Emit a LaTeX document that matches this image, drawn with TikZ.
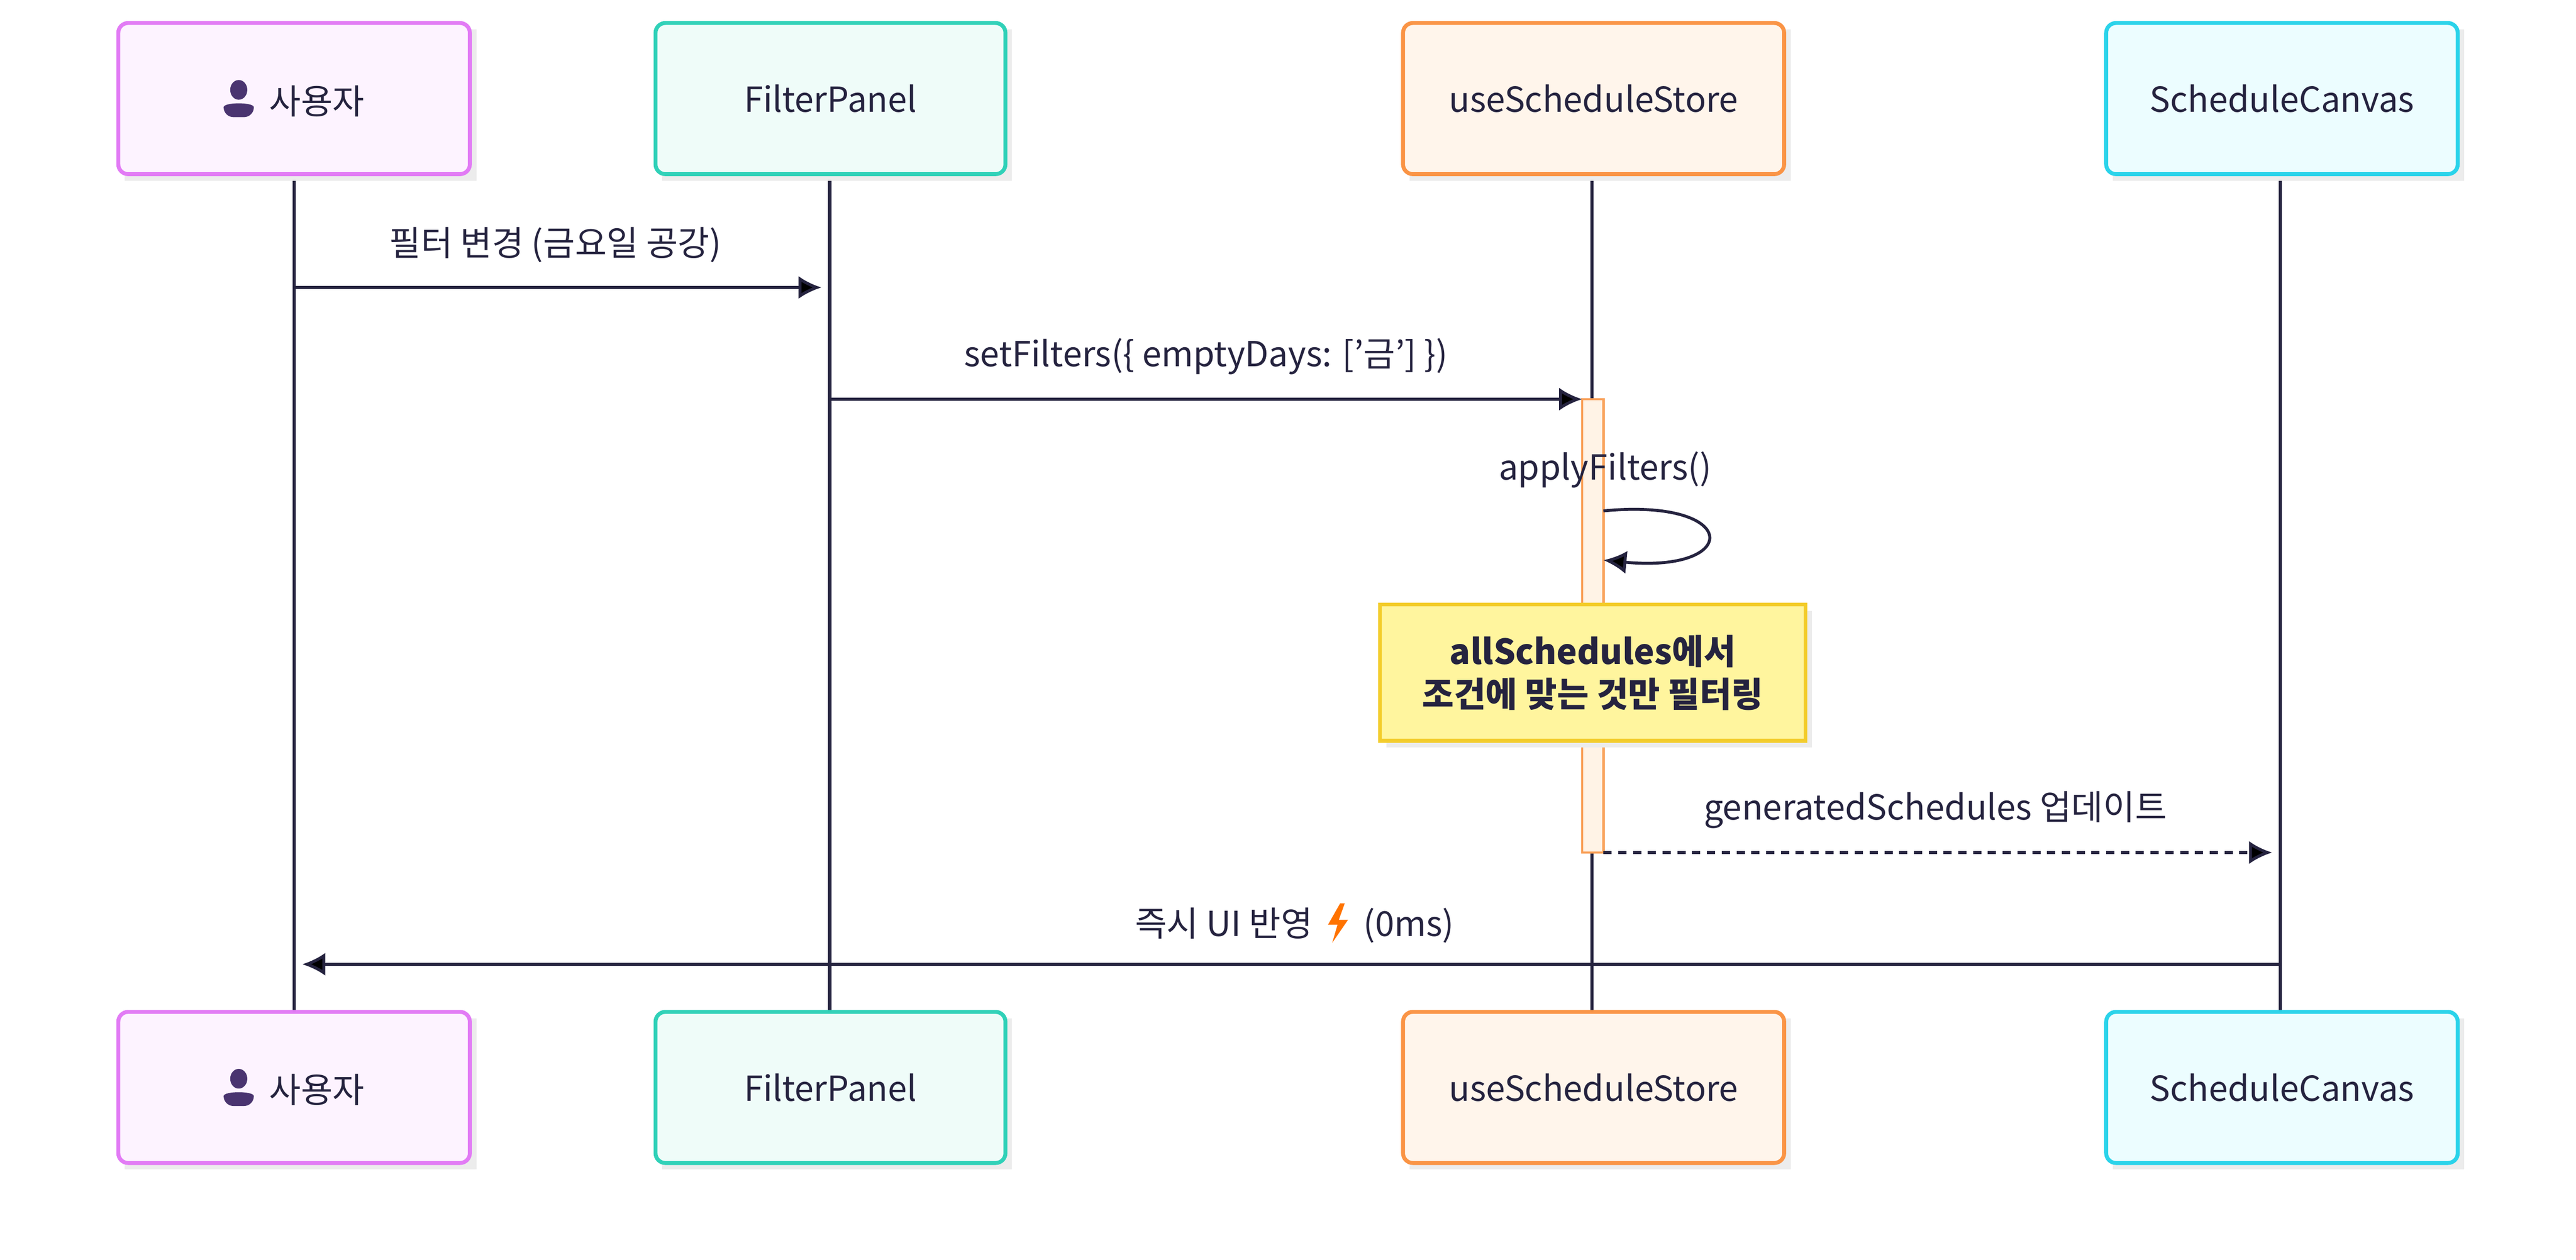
\documentclass[tikz,border=0pt]{standalone}
\usepackage{fontspec}
\setmainfont{Noto Sans CJK KR}
\usetikzlibrary{arrows.meta}
\definecolor{ink}{HTML}{25233F}
\definecolor{uB}{HTML}{E27BF5}\definecolor{uF}{HTML}{FDF3FF}
\definecolor{fB}{HTML}{30D1B8}\definecolor{fF}{HTML}{EFFCF9}
\definecolor{sB}{HTML}{FA9445}\definecolor{sF}{HTML}{FFF5EB}
\definecolor{cB}{HTML}{2AD3EA}\definecolor{cF}{HTML}{ECFDFF}
\definecolor{nB}{HTML}{F3CC2A}\definecolor{nF}{HTML}{FFF59E}
\definecolor{aB}{HTML}{F9A15A}\definecolor{aF}{HTML}{FFF3E6}
\definecolor{icon}{HTML}{4A3470}
\newcommand{\personicon}{\tikz[baseline=0pt,x=1pt,y=1pt]{\fill[icon] (4,7.3) ellipse (2.6 and 3); \fill[icon] (-0.6,-1) .. controls (-0.6,3.6) and (8.6,3.6) .. (8.6,-1) -- cycle;}}
\newcommand{\bolt}{\tikz[baseline=-1pt,x=1pt,y=1pt]{\fill[orange!90!red] (4.2,9) -- (0.5,2.5) -- (3.4,2.5) -- (1.8,-3) -- (6.6,4) -- (3.8,4) -- (5.6,9) -- cycle;}}
\newcommand{\q}{\char"27\relax}
\tikzset{x=0.5pt,y=-0.5pt,
 actor/.style={draw=#1,line width=1.2pt,rounded corners=3pt,font=\fontsize{10.5}{12}\selectfont,text=ink},
 life/.style={draw=ink,line width=1pt},
 msg/.style={draw=ink,line width=0.9pt,-{Latex[length=7pt,width=7pt]}},
 lbl/.style={font=\fontsize{10.5}{12}\selectfont,text=ink}}
\newcommand{\mybox}[6]{%
 \fill[gray!15] (#1+4,#2+4) rectangle (#3+4,#4+4);
 \node[actor=#5,fill=#6,minimum width={(#3-#1)*0.5pt},minimum height={(#4-#2)*0.5pt},inner sep=0pt] at ({(#1+#3)/2},{(#2+#4)/2})}
\begin{document}
\begin{tikzpicture}
\useasboundingbox[fill=white] (0,0) rectangle (1568,767);
\coordinate (uT) at (179,106);\coordinate (uB1) at (179,616);
\coordinate (fT) at (505,106);\coordinate (fB1) at (505,616);
\coordinate (sT) at (969,106);\coordinate (sB1) at (969,616);
\coordinate (cT) at (1388,106);\coordinate (cB1) at (1388,616);
\draw[life] (uT)--(uB1);\draw[life] (fT)--(fB1);\draw[life] (sT)--(sB1);\draw[life] (cT)--(cB1);
\mybox{72}{14}{286}{106}{uB}{uF} (u1) {\personicon\ \ 사용자};
\mybox{399}{14}{612}{106}{fB}{fF} (f1) {FilterPanel};
\mybox{854}{14}{1086}{106}{sB}{sF} (s1) {useScheduleStore};
\mybox{1282}{14}{1496}{106}{cB}{cF} (c1) {ScheduleCanvas};
\mybox{72}{616}{286}{708}{uB}{uF} (u2) {\personicon\ \ 사용자};
\mybox{399}{616}{612}{708}{fB}{fF} (f2) {FilterPanel};
\mybox{854}{616}{1086}{708}{sB}{sF} (s2) {useScheduleStore};
\mybox{1282}{616}{1496}{708}{cB}{cF} (c2) {ScheduleCanvas};
\node[draw=aB,fill=aF,line width=0.7pt,minimum width=6.5pt,minimum height=138pt,inner sep=0pt] (act) at (969.5,381) {};
\coordinate (m1a) at (179,175);\coordinate (m1b) at (500,175);
\draw[msg] (m1a)--(m1b);
\node[lbl] (l1) at (338,149) {필터 변경 (금요일 공강)};
\coordinate (m2a) at (505,243);\coordinate (m2b) at (963,243);
\draw[msg] (m2a)--(m2b);
\node[lbl] (l2) at (734,217) {setFilters(\{ emptyDays: [\q 금\q] \})};
\node[lbl] (l3) at (977,286) {applyFilters()};
\coordinate (sl1) at (976,311);\coordinate (sl2) at (976,341);
\draw[msg] (sl1) .. controls (1060,303) and (1060,349) .. (sl2);
\fill[gray!15] (844,372) rectangle (1103,455);
\node[draw=nB,fill=nF,line width=1.2pt,minimum width=129.5pt,minimum height=41.5pt,align=center,font=\fontsize{10.5}{13}\selectfont\bfseries,text=ink] (note) at (969.5,409.5) {allSchedules에서\\조건에 맞는 것만 필터링};
\coordinate (m3a) at (976,519);\coordinate (m3b) at (1383,519);
\draw[msg,dash pattern=on 2.5pt off 2pt] (m3a)--(m3b);
\node[lbl] (l4) at (1178,493) {generatedSchedules 업데이트};
\coordinate (m4a) at (1388,587);\coordinate (m4b) at (184,587);
\draw[msg] (m4a)--(m4b);
\node[lbl] (l5) at (788,562) {즉시 UI 반영 \ \bolt \ \ (0ms)};
\end{tikzpicture}
\end{document}
